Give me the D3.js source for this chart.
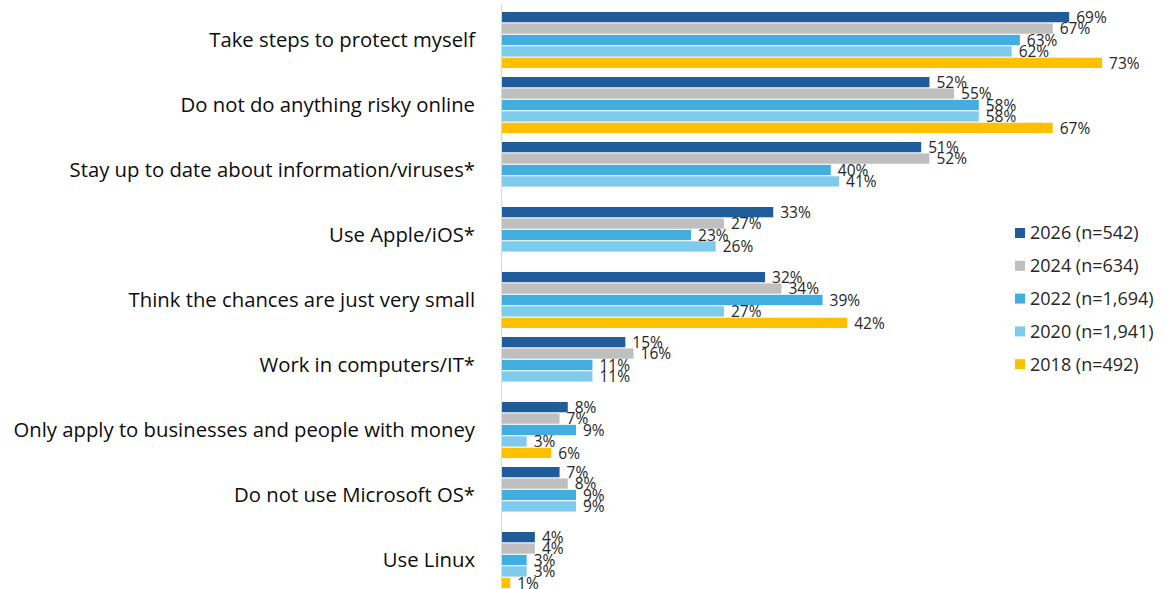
<!DOCTYPE html>
<html>
<head>
<meta charset="utf-8">
<script src="https://cdn.jsdelivr.net/npm/d3@7"></script>
<style>
  html, body { margin: 0; padding: 0; background: #fff; }
  svg { display: block; }
  text { font-family: "Open Sans", "Liberation Sans", sans-serif; }
</style>
</head>
<body>
<svg id="chart" width="1165" height="589"></svg>
<script>
// Reasons respondents give, by survey wave
const categories = [
  "Take steps to protect myself",
  "Do not do anything risky online",
  "Stay up to date about information/viruses*",
  "Use Apple/iOS*",
  "Think the chances are just very small",
  "Work in computers/IT*",
  "Only apply to businesses and people with money",
  "Do not use Microsoft OS*",
  "Use Linux"
];
const seriesNames = ["2026 (n=542)", "2024 (n=634)", "2022 (n=1,694)", "2020 (n=1,941)", "2018 (n=492)"];
const seriesColors = ["#1F5C99", "#BFBFBF", "#41AEDF", "#7FCBEB", "#FFC000"];
// null = not asked in that wave
const v2026 = [69, 52, 51, 33, 32, 15, 8, 7, 4];
const v2024 = [67, 55, 52, 27, 34, 16, 7, 8, 4];
const v2022 = [63, 58, 40, 23, 39, 11, 9, 9, 3];
const v2020 = [62, 58, 41, 26, 27, 11, 3, 9, 3];
const v2018 = [73, 67, null, null, 42, null, 6, null, 1];
const seriesValues = [v2026, v2024, v2022, v2020, v2018];

const svg = d3.select("#chart");
const axisX = 502;

const x = d3.scaleLinear().domain([0, 80]).range([axisX, axisX + 80 * 8.22]);

const y = d3.scaleBand()
  .domain(categories)
  .range([7.5, 7.5 + categories.length * 65])
  .paddingInner(9 / 65)
  .paddingOuter(4.5 / 65);

const ySub = d3.scaleBand()
  .domain(d3.range(seriesNames.length))
  .range([0, y.bandwidth()])
  .paddingInner(0.1);

// vertical category axis line
svg.append("line")
  .attr("x1", axisX - 0.5).attr("x2", axisX - 0.5)
  .attr("y1", 4).attr("y2", 589)
  .attr("stroke", "#D9D9D9").attr("stroke-width", 1);

// category labels
svg.append("g").selectAll("text")
  .data(categories)
  .join("text")
  .attr("x", 475)
  .attr("y", d => y(d) + y.bandwidth() / 2)
  .attr("dy", "0.35em")
  .attr("text-anchor", "end")
  .attr("font-size", 20.3)
  .attr("fill", "#0D0D0D")
  .text(d => d);

// bars and value labels
const rows = [];
categories.forEach((c, i) => {
  seriesValues.forEach((vals, s) => {
    if (vals[i] != null) rows.push({ cat: c, s, v: vals[i] });
  });
});

const g = svg.append("g");
g.selectAll("rect")
  .data(rows)
  .join("rect")
  .attr("x", x(0))
  .attr("y", d => y(d.cat) + ySub(d.s))
  .attr("width", d => x(d.v) - x(0))
  .attr("height", ySub.bandwidth())
  .attr("fill", d => seriesColors[d.s]);

g.selectAll("text")
  .data(rows)
  .join("text")
  .attr("x", d => x(d.v) + 7)
  .attr("y", d => y(d.cat) + ySub(d.s) + ySub.bandwidth() / 2 + 0.5)
  .attr("dy", "0.35em")
  .attr("font-size", 15.5)
  .attr("fill", "#262626")
  .text(d => d.v + "%");

// legend
const legend = svg.append("g").attr("transform", "translate(1015,233)");
const li = legend.selectAll("g")
  .data(seriesNames)
  .join("g")
  .attr("transform", (d, i) => `translate(0,${i * 32.8})`);
li.append("rect")
  .attr("x", 0).attr("y", -5)
  .attr("width", 10).attr("height", 10)
  .attr("fill", (d, i) => seriesColors[i]);
li.append("text")
  .attr("x", 15).attr("y", 0)
  .attr("dy", "0.35em")
  .attr("font-size", 18)
  .attr("fill", "#262626")
  .text(d => d);
</script>
</body>
</html>
